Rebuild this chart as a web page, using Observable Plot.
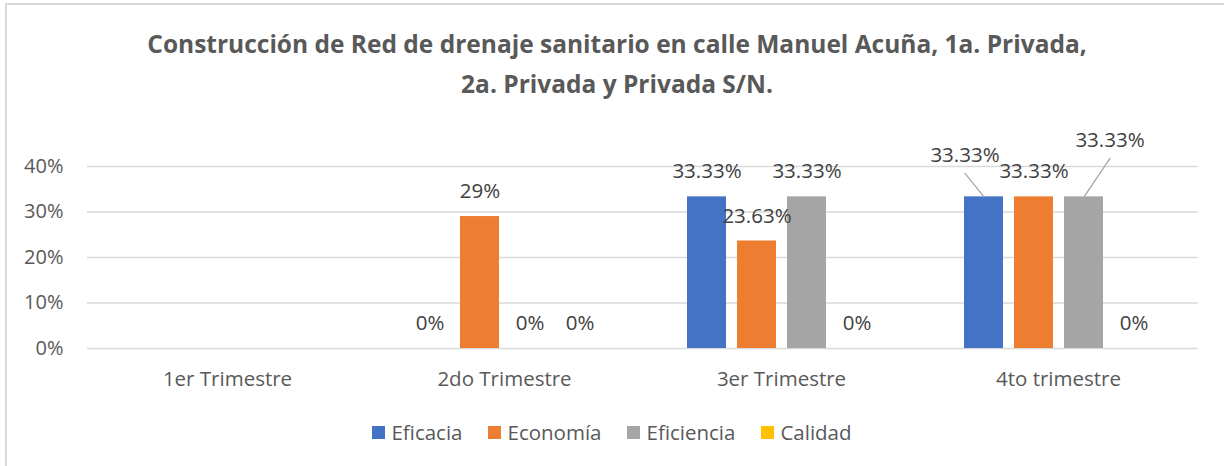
<!DOCTYPE html>
<html>
<head>
<meta charset="utf-8">
<script src="https://cdn.jsdelivr.net/npm/d3@7"></script>
<script src="https://cdn.jsdelivr.net/npm/@observablehq/plot@0.6"></script>
<style>
  html, body { margin: 0; padding: 0; background: #fff; }
  #wrap { position: relative; width: 1224px; height: 466px; overflow: hidden; font-family: "Open Sans", sans-serif; }
  #border { position: absolute; left: 5px; top: 3px; width: 1300px; height: 500px; border-left: 2px solid #d9d9d9; border-top: 2px solid #d9d9d9; }
  #title { position: absolute; left: 5px; width: 1224px; top: 24px; text-align: center; font-weight: 700; font-size: 24.5px; line-height: 40px; color: #595959; z-index: 2; }
  #grid, #chart { position: absolute; left: 0; top: 0; }
  #legend { position: absolute; left: 0; width: 1224px; top: 418px; display: flex; justify-content: center; align-items: center; font-size: 20.5px; color: #595959; }
  .item { display: flex; align-items: center; margin: 0 13px; }
  .sw { width: 13px; height: 13px; margin-right: 6px; }
</style>
</head>
<body>
<div id="wrap">
  <div id="border"></div>
  <div id="grid"></div>
  <div id="chart"></div>
  <div id="title">Construcción de Red de drenaje sanitario en calle Manuel Acuña, 1a. Privada,<br>2a. Privada y Privada S/N.</div>
  <div id="legend"></div>
</div>
<script>
// ---- data ----
const categories = ["1er Trimestre", "2do Trimestre", "3er Trimestre", "4to trimestre"];
const series = ["Eficacia", "Economía", "Eficiencia", "Calidad"];
const colors = ["#4472C4", "#ED7D31", "#A5A5A5", "#FFC000"];
const eficacia   = [null, 0, 33.33, 33.33];
const economia   = [null, 29, 23.63, 33.33];
const eficiencia = [null, 0, 33.33, 33.33];
const calidad    = [null, 0, 0, 0];
const yTicks = [0, 10, 20, 30, 40];

// label displacement (style) for labels moved off their bars, with leader lines
const labelNudges = {
  "4to trimestre|Eficacia": {dx: -19, dy: -41},
  "4to trimestre|Eficiencia": {dx: 26, dy: -56}
};

const valuesBySeries = [eficacia, economia, eficiencia, calidad];
const data = [];
categories.forEach((c, i) => {
  series.forEach((s, j) => {
    data.push({cat: c, series: s, value: valuesBySeries[j][i]});
  });
});
const valid = data.filter(d => d.value != null);
const fmt = v => (+v.toFixed(2)) + "%";
const key = d => d.cat + "|" + d.series;
const plain = valid.filter(d => !labelNudges[key(d)]);
const nudged = valid.filter(d => labelNudges[key(d)]);

const frame = {width: 1224, height: 410, marginLeft: 87, marginRight: 26, marginTop: 166, marginBottom: 62};
const yScale = {domain: [0, 40], axis: null};
const labelFont = {fontSize: 20.5, fill: "#404040", fontFamily: "Open Sans"};

// background: gridlines + y axis across the whole plot width
const grid = Plot.plot({
  ...frame,
  style: {fontFamily: "Open Sans", background: "transparent"},
  y: yScale,
  marks: [
    Plot.ruleY(yTicks, {stroke: "#d9d9d9", strokeWidth: 1.5}),
    Plot.axisY({ticks: yTicks, tickSize: 0, tickPadding: 24, tickFormat: d => d + "%", fontSize: 20, color: "#595959", label: null})
  ]
});
document.getElementById("grid").appendChild(grid);

const marks = [
  Plot.axisFx({anchor: "bottom", tickSize: 0, tickPadding: 23, fontSize: 20.5, color: "#595959", label: null}),
  Plot.barY(valid, {fx: "cat", x: "series", y: "value", fill: "series", inset: 0}),
  Plot.text(plain, {fx: "cat", x: "series", y: "value", text: d => fmt(d.value), dy: -25, ...labelFont})
];
for (const d of nudged) {
  const n = labelNudges[key(d)];
  const lx = n.dx, ly = n.dy + 17.5;
  marks.push(Plot.vector([d], {fx: "cat", x: "series", y: "value", length: Math.hypot(lx, ly),
    rotate: Math.atan2(lx, -ly) * 180 / Math.PI, anchor: "start", shape: "spike", r: 0,
    stroke: "#a6a6a6", fill: "none", strokeWidth: 1.3}));
  marks.push(Plot.text([d], {fx: "cat", x: "series", y: "value", text: d => fmt(d.value), dx: n.dx, dy: n.dy, ...labelFont}));
}

const chart = Plot.plot({
  ...frame,
  style: {fontFamily: "Open Sans", background: "transparent", overflow: "visible"},
  fx: {domain: categories, paddingInner: 0.27, paddingOuter: 0.135, label: null},
  x: {domain: series, paddingInner: 0.23, paddingOuter: 0.115, axis: null},
  y: yScale,
  color: {domain: series, range: colors},
  marks
});
document.getElementById("chart").appendChild(chart);

const legend = document.getElementById("legend");
series.forEach((s, i) => {
  const item = document.createElement("div");
  item.className = "item";
  const sw = document.createElement("div");
  sw.className = "sw";
  sw.style.background = colors[i];
  const t = document.createElement("span");
  t.textContent = s;
  item.appendChild(sw);
  item.appendChild(t);
  legend.appendChild(item);
});
</script>
</body>
</html>
